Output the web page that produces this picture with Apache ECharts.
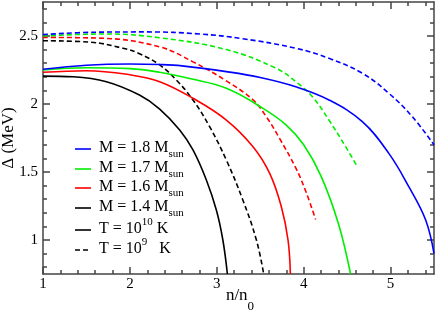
<!DOCTYPE html>
<html><head><meta charset="utf-8">
<script src="https://cdn.jsdelivr.net/npm/echarts@6/dist/echarts.min.js"></script>
<style>html,body{margin:0;padding:0;background:#fff}#c{width:436px;height:315px}</style>
</head><body><div id="c"></div>
<script>
// ---- data ----
const xMajorTicks = [1, 2, 3, 4, 5];
const xMinorTicks = [1.2,1.4,1.6,1.8,2.2,2.4,2.6,2.8,3.2,3.4,3.6,3.8,4.2,4.4,4.6,4.8,5.2,5.4];
const yMajorTicks = [1, 1.5, 2, 2.5];
const yMinorTicks = [0.8,0.9,1.1,1.2,1.3,1.4,1.6,1.7,1.8,1.9,2.1,2.2,2.3,2.4,2.6,2.7];

const m18_T10 = [[1,2.255],[1.5,2.285],[2,2.294],[2.343,2.29],[2.6,2.28],[3.11,2.238],[3.5,2.195],[3.909,2.127],[4.291,2.03],[4.675,1.87],[4.98,1.637],[5.21,1.392],[5.404,1.147],[5.5,0.90]];
const m18_T9  = [[1,2.51],[1.6,2.528],[2.2,2.53],[2.8,2.515],[3.3,2.48],[3.909,2.41],[4.291,2.336],[4.675,2.226],[4.98,2.079],[5.25,1.907],[5.5,1.70]];
const m17_T10 = [[1,2.25],[1.5,2.266],[2,2.26],[2.343,2.233],[2.7,2.185],[3.11,2.115],[3.532,1.968],[3.8,1.845],[4.0,1.70],[4.2,1.47],[4.4,1.12],[4.54,0.75]];
const m17_T9  = [[1,2.50],[1.7,2.515],[2.343,2.487],[3.11,2.40],[3.686,2.262],[3.909,2.164],[4.10,2.054],[4.291,1.882],[4.483,1.686],[4.618,1.539]];
const m16_T10 = [[1,2.233],[1.5,2.245],[2,2.215],[2.343,2.164],[2.726,2.042],[3.11,1.882],[3.417,1.686],[3.609,1.49],[3.743,1.245],[3.82,1.0],[3.847,0.75]];
const m16_T9  = [[1,2.49],[1.7,2.483],[2.343,2.42],[2.726,2.31],[3.11,2.17],[3.417,2.03],[3.571,1.905],[3.724,1.745],[3.909,1.53],[4.023,1.36],[4.138,1.15]];
const m14_T10 = [[1,2.205],[1.35,2.2],[1.73,2.164],[2.11,2.066],[2.343,1.963],[2.573,1.809],[2.726,1.662],[2.88,1.441],[2.995,1.22],[3.07,1.0],[3.122,0.75]];
const m14_T9  = [[1,2.465],[1.54,2.455],[1.92,2.41],[2.11,2.37],[2.343,2.287],[2.535,2.176],[2.726,2.03],[2.918,1.833],[3.11,1.588],[3.30,1.294],[3.456,1.0],[3.54,0.75]];

const legendLabels = ['M = 1.8 M', 'M = 1.7 M', 'M = 1.6 M', 'M = 1.4 M'];
const xName = 'n/n';
const xNameSub = '0';
const yName = 'Δ (MeV)';
const colors = ['#0000ff', '#00ee00', '#ff0000', '#000000'];

// ---- chart ----
const FONT = 'Liberation Serif';
const axisColor = '#444';
function xAx(pos, ticks, len, labels, line) {
  return { type:'value', position:pos, min:1, max:5.5, splitLine:{show:false},
    axisLine:{show:line, onZero:false, lineStyle:{color:axisColor, width:1.5}},
    axisTick:{show:true, inside:true, length:len, customValues:ticks, lineStyle:{color:axisColor, width:1.5}},
    axisLabel:{show:labels, customValues:xMajorTicks, margin:3, color:'#000', fontFamily:FONT, fontSize:15}
  };
}
function yAx(pos, ticks, len, labels, line) {
  return { type:'value', position:pos, min:0.75, max:2.75, splitLine:{show:false},
    axisLine:{show:line, onZero:false, lineStyle:{color:axisColor, width:1.5}},
    axisTick:{show:true, inside:true, length:len, customValues:ticks, lineStyle:{color:axisColor, width:1.5}},
    axisLabel:{show:labels, customValues:yMajorTicks, margin:5, color:'#000', fontFamily:FONT, fontSize:15}
  };
}
const seriesDefs = [
  [m14_T10, 3, 'solid'], [m14_T9, 3, 'dashed'],
  [m16_T10, 2, 'solid'], [m16_T9, 2, 'dashed'],
  [m17_T10, 1, 'solid'], [m17_T9, 1, 'dashed'],
  [m18_T10, 0, 'solid'], [m18_T9, 0, 'dashed']
];
const series = seriesDefs.map(([d, ci, st]) => ({
  type:'line', data:d, showSymbol:false, smooth:0.4, clip:true, xAxisIndex:0, yAxisIndex:0,
  lineStyle:{color:colors[ci], width:1.6, type: st==='dashed' ? [5,3] : 'solid'}, silent:true
}));

const rows = [149, 169, 188, 208, 230, 250];
const richM = { m:{fontFamily:FONT, fontSize:16, lineHeight:24, color:'#000'},
  s:{fontFamily:FONT, fontSize:11, lineHeight:10, verticalAlign:'bottom', color:'#000'},
  p:{fontFamily:FONT, fontSize:11, lineHeight:10, verticalAlign:'top', color:'#000'} };
const graphic = [];
legendLabels.forEach((t, i) => {
  graphic.push({type:'line', shape:{x1:75, y1:rows[i], x2:91, y2:rows[i]}, style:{stroke:colors[i], lineWidth:1.6}});
  graphic.push({type:'text', x:99, y:rows[i]-1, style:{text:'{m|' + t + '}{s|sun}', rich:richM, verticalAlign:'middle', align:'left'}});
});
graphic.push({type:'line', shape:{x1:75, y1:rows[4], x2:91, y2:rows[4]}, style:{stroke:'#000', lineWidth:1.6}});
graphic.push({type:'text', x:99, y:rows[4]-1, style:{text:'{m|T = 10}{p|10}{m| K}', rich:richM, verticalAlign:'middle', align:'left'}});
graphic.push({type:'line', shape:{x1:75, y1:rows[5], x2:91, y2:rows[5]}, style:{stroke:'#000', lineWidth:1.6, lineDash:[5,3]}});
graphic.push({type:'text', x:99, y:rows[5]-1, style:{text:'{m|T = 10}{p|9}{m|   K}', rich:richM, verticalAlign:'middle', align:'left'}});
// axis titles
graphic.push({type:'text', x:240, y:296, style:{text:'{m|' + xName + '}{s|' + xNameSub + '}', align:'center', verticalAlign:'middle',
  rich:{ m:{fontFamily:FONT, fontSize:17, lineHeight:34, color:'#000'}, s:{fontFamily:FONT, fontSize:13, lineHeight:10, verticalAlign:'bottom', color:'#000'} } }});
graphic.push({type:'text', x:9, y:138, rotation:Math.PI/2, style:{text:yName, align:'center', verticalAlign:'middle', fontFamily:FONT, fontSize:17, fill:'#000'}});

const chart = echarts.init(document.getElementById('c'), null, {renderer:'canvas'});
chart.setOption({
  animation:false,
  backgroundColor:'#fff',
  grid:{left:43, right:2, top:2, bottom:41, containLabel:false, outerBoundsMode:'none'},
  xAxis:[ xAx('bottom', xMajorTicks, 7, true, true), xAx('top', xMajorTicks, 7, false, true),
          xAx('bottom', xMinorTicks, 4, false, false), xAx('top', xMinorTicks, 4, false, false) ],
  yAxis:[ yAx('left', yMajorTicks, 7, true, true), yAx('right', yMajorTicks, 7, false, true),
          yAx('left', yMinorTicks, 4, false, false), yAx('right', yMinorTicks, 4, false, false) ],
  series:series,
  graphic:graphic
});
</script></body></html>
